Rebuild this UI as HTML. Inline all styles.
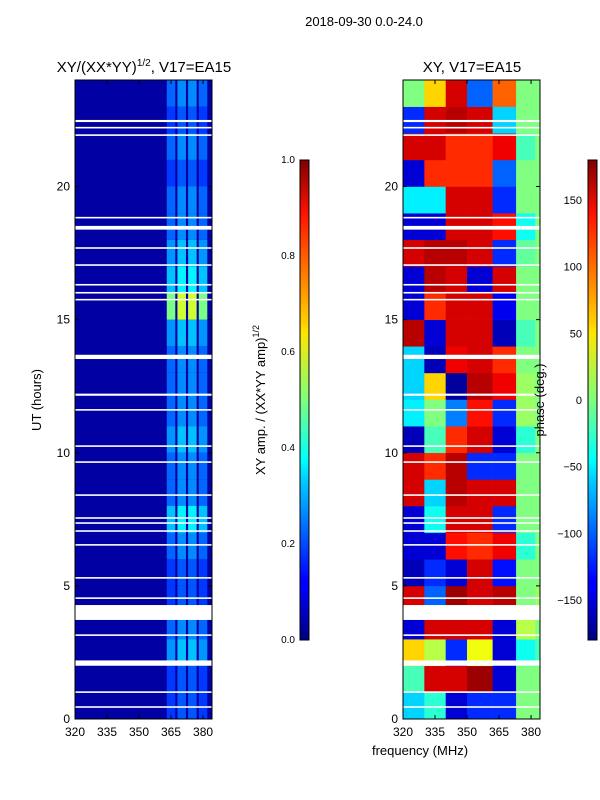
<!DOCTYPE html>
<html><head><meta charset="utf-8"><style>
html,body{margin:0;padding:0;background:#fff;}
svg{display:block;font-family:"Liberation Sans",sans-serif;}
</style></head><body>
<svg id="c" width="600" height="800" xmlns="http://www.w3.org/2000/svg">
<defs>
<linearGradient id="jet" x1="0" y1="1" x2="0" y2="0">
<stop offset="0" stop-color="#00007f"/><stop offset="0.11" stop-color="#0000ff"/><stop offset="0.125" stop-color="#0000ff"/>
<stop offset="0.34" stop-color="#00d4ff"/><stop offset="0.375" stop-color="#00ffff"/><stop offset="0.5" stop-color="#7dff7a"/>
<stop offset="0.64" stop-color="#ffe600"/><stop offset="0.66" stop-color="#ffd000"/><stop offset="0.89" stop-color="#ff1100"/><stop offset="1" stop-color="#7f0000"/>
</linearGradient>
</defs>
<text x="364" y="26" font-size="13" text-anchor="middle">2018-09-30 0.0-24.0</text>
<text x="144" y="72" font-size="15" text-anchor="middle">XY/(XX*YY)<tspan font-size="10" dy="-6">1/2</tspan><tspan dy="6">, V17=EA15</tspan></text>
<text x="472" y="72" font-size="15" text-anchor="middle">XY, V17=EA15</text>
<g id="leftHeat"></g>
<g id="rightHeat"></g>
<g id="axes"></g>
<rect x="300" y="160" width="9" height="480" fill="url(#jet)" stroke="#000" stroke-width="1"/>
<rect x="588" y="160" width="9" height="480" fill="url(#jet)" stroke="#000" stroke-width="1"/>
<text transform="translate(41,400) rotate(-90)" font-size="13" text-anchor="middle">UT (hours)</text>
<text transform="translate(265,400) rotate(-90)" font-size="13" text-anchor="middle">XY amp. / (XX*YY amp)<tspan font-size="9" dy="-6">1/2</tspan></text>
<text transform="translate(544,400) rotate(-90)" font-size="13" text-anchor="middle">phase (deg.)</text>
<text x="420" y="755" font-size="13" text-anchor="middle">frequency (MHz)</text>
</svg>
<script>
const hours = [0,1,2,3,4,5,6,7,8,9,10,11,12,13,14,15,16,17,18,19,20,21,22,23];
const ampBright = [0.2,0.2,0.3,0.25,0.2,0.2,0.25,0.35,0.25,0.25,0.3,0.25,0.25,0.25,0.3,0.55,0.35,0.3,0.25,0.25,0.2,0.25,0.2,0.25];
const ampBackground = 0.035;
const ampBands = [[363,367],[368,372],[373,377],[378,382]];
const phaseBands = [[320,330],[330,340],[340,350],[350,362],[362,373],[373,382],[382,384.2]];
const phase = [
[-60,-30,-150,-120,-120,0,0],[-20,150,150,170,-150,0,0],[60,20,-120,40,-150,-40,-20],[-150,150,150,150,-150,20,0],
[150,-100,170,150,160,0,10],[-160,-120,-150,150,-130,0,0],[-150,-150,130,120,140,-30,0],[-150,-40,150,150,-120,0,0],
[150,-60,160,150,150,0,0],[150,120,160,-120,-120,0,0],[-160,-20,120,150,-150,-30,0],[-50,0,-90,130,-120,10,0],
[-60,60,-170,160,140,10,0],[-60,-160,140,150,120,0,0],[160,-150,150,150,-160,-20,0],[-150,120,150,150,-140,0,0],
[-150,160,150,-150,150,0,0],[150,160,160,150,-120,-10,0],[-150,-150,150,150,130,-40,0],[-50,-50,150,150,-120,0,0],
[-150,120,120,120,-100,0,0],[150,150,120,120,140,-20,0],[-120,150,160,150,-60,0,0],[0,60,150,-100,100,0,0]];
const gaps = [[22.42,22.5],[22.18,22.24],[21.9,21.96],[18.8,18.86],[18.38,18.52],[17.66,17.72],[17.02,17.08],[16.28,16.34],[15.98,16.04],[15.72,15.78],[13.52,13.68],[12.14,12.22],[11.58,11.64],[10.22,10.28],[9.62,9.68],[8.38,8.44],[7.52,7.58],[7.33,7.39],[7.03,7.09],[6.51,6.57],[5.27,5.33],[4.51,4.57],[3.72,4.28],[3.12,3.18],[2.0,2.2],[0.98,1.04],[0.42,0.48]];
const yTicks = [0,5,10,15,20];
const xTicks = [320,335,350,365,380];
const ampTicks = [0,0.2,0.4,0.6,0.8,1.0];
const phaseTicks = [-150,-100,-50,0,50,100,150];

const NS="http://www.w3.org/2000/svg";
const Y0=719,Y1=80,T0=0,T1=24;
const yS=t=>Y0-(t-T0)/(T1-T0)*(Y0-Y1);
const F0=320,F1=384.2;
const xL=f=>75+(f-F0)/(F1-F0)*137;
const xR=f=>403+(f-F0)/(F1-F0)*137;
function jet(v){v=Math.max(0,Math.min(1,v));
 const r=Math.max(0,Math.min(1,1.5-Math.abs(4*v-3))),g=Math.max(0,Math.min(1,1.5-Math.abs(4*v-2))),b=Math.max(0,Math.min(1,1.5-Math.abs(4*v-1)));
 return `rgb(${Math.round(r*255)},${Math.round(g*255)},${Math.round(b*255)})`;}
function mk(tag,attrs,parent){const e=document.createElementNS(NS,tag);for(const k in attrs)e.setAttribute(k,attrs[k]);parent.appendChild(e);return e;}
const L=document.getElementById('leftHeat'),R=document.getElementById('rightHeat'),A=document.getElementById('axes');
let bg=mk('rect',{x:xL(F0),y:Y1,width:137,height:Y0-Y1,fill:jet(ampBackground)},L);


hours.forEach((h,i)=>{
 ampBands.forEach((b,j)=>{
  const r=mk('rect',{x:xL(b[0]),y:yS(h+1),width:xL(b[1])-xL(b[0]),height:yS(h)-yS(h+1),fill:jet(ampBright[i]*(j===1||j===2?1.05:0.9))},L);
  
  
 });
 phaseBands.forEach((b,j)=>{
  const r=mk('rect',{x:xR(b[0]),y:yS(h+1),width:xR(b[1])-xR(b[0])+0.3,height:yS(h)-yS(h+1)+0.3,fill:jet((phase[i][j]+180)/360)},R);
  
  
 });
});
gaps.forEach(g=>{
 [[75,L],[403,R]].forEach(([x0,p])=>{
  const r=mk('rect',{x:x0,y:yS(g[1]),width:137,height:Math.max(1.5,yS(g[0])-yS(g[1])),fill:'#fff'},p);
  
  
 });
});
[[75,xL],[403,xR]].forEach(([x0,xf],k)=>{
 const fr=mk('rect',{x:x0,y:Y1,width:137,height:Y0-Y1,fill:'none',stroke:'#000','stroke-width':1},A);
 
 
 yTicks.forEach(t=>{
  mk('line',{x1:x0,x2:x0+4,y1:yS(t),y2:yS(t),stroke:'#000'},A);
  mk('line',{x1:x0+137,x2:x0+133,y1:yS(t),y2:yS(t),stroke:'#000'},A);
  const tx=mk('text',{x:x0-5,y:yS(t)+4,'font-size':12,'text-anchor':'end'},A);tx.textContent=t;
  
  
 });
 xTicks.forEach(f=>{
  mk('line',{x1:xf(f),x2:xf(f),y1:Y0,y2:Y0-4,stroke:'#000'},A);
  mk('line',{x1:xf(f),x2:xf(f),y1:Y1,y2:Y1+4,stroke:'#000'},A);
  const tx=mk('text',{x:xf(f),y:736,'font-size':12,'text-anchor':'middle'},A);tx.textContent=f;
  
  
 });
});
ampTicks.forEach(v=>{
 const y=640-v*480;
 mk('line',{x1:300,x2:304,y1:y,y2:y,stroke:'#000'},A);
 const tx=mk('text',{x:295,y:y+3,'font-size':10,'text-anchor':'end'},A);tx.textContent=v.toFixed(1);
 
 
});
phaseTicks.forEach(v=>{
 const y=640-(v+180)/360*480;
 mk('line',{x1:588,x2:592,y1:y,y2:y,stroke:'#000'},A);
 const tx=mk('text',{x:582,y:y+4,'font-size':11,'text-anchor':'end'},A);tx.textContent=v<0?'\u2212'+(-v):v;
 
 
});
</script>
</body></html>
